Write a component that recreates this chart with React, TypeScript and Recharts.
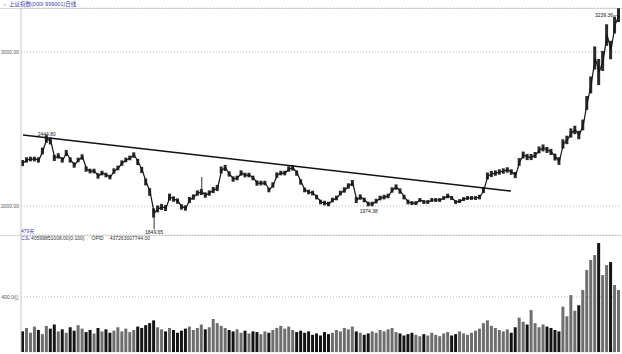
import React from 'react';
import {
  ComposedChart,
  Line,
  Bar,
  Cell,
  XAxis,
  YAxis,
  CartesianGrid,
  ReferenceLine,
  ReferenceDot,
} from 'recharts';

// Daily closing level of the index, sampled roughly every 3 trading days (479 days total)
const closes = [
  2279, 2299, 2305, 2305, 2299, 2357, 2435, 2422, 2312, 2325, 2299,
  2344, 2299, 2266, 2299, 2318, 2240, 2227, 2227, 2195, 2214,
  2201, 2188, 2227, 2247, 2279, 2299, 2312, 2331, 2286, 2234,
  2156, 2091, 1955, 1981, 1994, 1987, 2058, 2045, 2032, 1994,
  1987, 2039, 2058, 2084, 2091, 2071, 2084, 2104, 2117, 2234,
  2247, 2208, 2175, 2182, 2214, 2201, 2201, 2182, 2149, 2149,
  2149, 2104, 2136, 2201, 2214, 2214, 2240, 2247, 2214, 2156,
  2104, 2091, 2084, 2058, 2026, 2019, 2013, 2039, 2052, 2084,
  2104, 2130, 2149, 2039, 2058, 2039, 2013, 2013, 2032, 2052,
  2058, 2065, 2104, 2123, 2097, 2058, 2026, 2019, 2019, 2039,
  2026, 2026, 2039, 2039, 2039, 2052, 2065, 2052, 2026, 2032,
  2045, 2052, 2052, 2052, 2058, 2104, 2195, 2208, 2214, 2221,
  2227, 2234, 2221, 2201, 2286, 2331, 2318, 2318, 2331, 2364,
  2377, 2364, 2351, 2318, 2292, 2403, 2429, 2474, 2494, 2461,
  2526, 2669, 2786, 2961, 2870, 2942, 3110, 3013, 3175, 3239.36,
];

// Typical high-low span (points) around each sampled close
const swings = [
  40, 35, 30, 30, 35, 45, 50, 45, 40, 35, 35,
  40, 35, 35, 30, 35, 35, 30, 30, 35, 30,
  30, 30, 35, 30, 35, 30, 30, 35, 40, 40,
  45, 50, 60, 45, 40, 40, 45, 35, 35, 35,
  35, 40, 35, 35, 40, 35, 35, 40, 40, 45,
  40, 35, 35, 30, 35, 30, 30, 30, 35, 30,
  30, 30, 35, 35, 30, 30, 35, 35, 35, 35,
  30, 30, 30, 30, 30, 30, 30, 30, 30, 30,
  35, 35, 40, 40, 35, 30, 30, 30, 30, 30,
  30, 30, 35, 35, 35, 30, 30, 25, 25, 25,
  25, 25, 25, 25, 25, 25, 30, 25, 25, 25,
  25, 25, 25, 25, 30, 40, 45, 40, 35, 35,
  35, 35, 35, 40, 50, 45, 40, 40, 40, 45,
  45, 40, 40, 45, 50, 60, 55, 60, 55, 55,
  70, 90, 110, 150, 170, 130, 140, 120, 110, 90,
];

// Volume (亿)
const volumes = [
  150, 175, 140, 185, 160, 130, 190, 170, 200, 150, 165,
  140, 180, 155, 195, 170, 145, 160, 135, 175, 150,
  165, 140, 155, 180, 150, 170, 145, 160, 185, 175,
  195, 210, 230, 180, 165, 150, 175, 160, 140, 155,
  170, 185, 160, 175, 200, 165, 180, 240, 210, 190,
  175, 160, 150, 165, 140, 155, 135, 150, 145, 130,
  150, 140, 160, 175, 190, 170, 185, 160, 145, 155,
  140, 150, 125, 135, 120, 145, 130, 140, 160, 150,
  175, 165, 185, 150, 140, 125, 135, 150, 140, 160,
  150, 165, 175, 145, 135, 120, 130, 140, 125, 115,
  130, 120, 140, 125, 115, 135, 145, 120, 130, 150,
  135, 125, 140, 155, 170, 210, 230, 190, 175, 160,
  150, 165, 140, 180, 250, 220, 200, 305, 210, 180,
  200, 185, 175, 160, 150, 330, 260, 414, 300, 340,
  451, 596, 669, 705, 793, 560, 632, 654, 487, 451,
];

const priceTicks = [2000, 3000];
const volumeTicks = [400];

// annotated extremes: [index, value]
const highPoint = [6, 2444.8];
const lowPoint = [33, 1849.65];
const lowClose = [33, 1955];
const secondLow = [87, 1974.38];
const lastPoint = [150, 3239.36];
const spikeBar = [45, 2091, 2188];
// trend line endpoints: [index, value]
const trendStart = [0, 2461];
const trendEnd = [122.8, 2097];

const titleText = '上证指数(000I 999001)日线';
const daysText = '479天';
const cjlValue = '40599851008.00(0:100)';
const opidValue = '437263007744.00';

const data = closes.map((c, i) => ({
  i,
  close: c,
  range: [c - swings[i] / 2, c + swings[i] / 2],
  vol: volumes[i],
}));

const FONT = '"Liberation Sans", "Noto Sans CJK SC", sans-serif';
const X_DOMAIN: [number, number] = [-0.5, 150.5];

export default function App() {
  return (
    <div
      style={{
        position: 'absolute',
        left: 0,
        top: 0,
        width: 622,
        height: 354,
        background: '#fff',
        overflow: 'hidden',
        fontFamily: FONT,
      }}
    >
      {/* title */}
      <div style={{ position: 'absolute', left: 2, top: 0, fontSize: 5.5, lineHeight: '8px', whiteSpace: 'nowrap' }}>
        <span style={{ color: '#888' }}>⇔ </span>
        <span style={{ color: '#3a3aa8' }}>{titleText}</span>
      </div>
      <div style={{ position: 'absolute', left: 0, top: 8, width: 622, height: 1, background: '#d6d6d6' }} />

      <div style={{ position: 'absolute', left: 0, top: 0 }}>
        <ComposedChart width={622} height={235} data={data} margin={{ top: 8, right: 1, bottom: 0, left: 0 }}>
          <CartesianGrid vertical={false} stroke="#bbb" strokeDasharray="1 2" />
          <XAxis dataKey="i" type="number" domain={X_DOMAIN} hide allowDataOverflow />
          <YAxis
            width={21}
            domain={[1811.7, 3285.7]}
            ticks={priceTicks}
            allowDataOverflow
            tickFormatter={(v: number) => v.toFixed(2)}
            tick={{ fontSize: 5, fill: '#555', fontFamily: FONT }}
            tickLine={false}
            tickSize={0}
            tickMargin={2}
            axisLine={{ stroke: '#c8c8c8' }}
          />
          <ReferenceLine
            segment={[
              { x: trendStart[0], y: trendStart[1] },
              { x: trendEnd[0], y: trendEnd[1] },
            ]}
            stroke="#111"
            strokeWidth={1.6}
          />
          <ReferenceLine
            segment={[
              { x: lowClose[0], y: lowClose[1] },
              { x: lowPoint[0], y: lowPoint[1] },
            ]}
            stroke="#333"
            strokeWidth={1}
          />
          <ReferenceLine
            segment={[
              { x: spikeBar[0], y: spikeBar[1] },
              { x: spikeBar[0], y: spikeBar[2] },
            ]}
            stroke="#333"
            strokeWidth={1}
          />
          <Bar dataKey="range" barSize={3} fill="#2a2a2a" isAnimationActive={false} />
          <Line
            dataKey="close"
            type="linear"
            stroke="#151515"
            strokeWidth={1.2}
            dot={false}
            isAnimationActive={false}
          />
          <ReferenceDot
            x={highPoint[0]}
            y={highPoint[1]}
            r={0}
            label={{ value: highPoint[1].toFixed(2), position: 'top', offset: 2, fontSize: 5, fill: '#222', fontFamily: FONT }}
          />
          <ReferenceDot
            x={lowPoint[0]}
            y={lowPoint[1]}
            r={0}
            label={{ value: lowPoint[1].toFixed(2), position: 'bottom', offset: 1, fontSize: 5, fill: '#222', fontFamily: FONT }}
          />
          <ReferenceDot
            x={secondLow[0]}
            y={secondLow[1]}
            r={0}
            label={{ value: secondLow[1].toFixed(2), position: 'bottom', offset: 0, fontSize: 5, fill: '#222', fontFamily: FONT }}
          />
          <ReferenceDot
            x={lastPoint[0]}
            y={lastPoint[1]}
            r={0}
            label={{ value: lastPoint[1].toFixed(2) + '—', position: 'left', offset: 1, fontSize: 5, fill: '#222', fontFamily: FONT }}
          />
        </ComposedChart>
      </div>

      <div style={{ position: 'absolute', left: 0, top: 235, width: 622, height: 1, background: '#d6d6d6' }} />
      <div style={{ position: 'absolute', left: 21, top: 228, fontSize: 5, lineHeight: '6px', color: '#3a3aa8', whiteSpace: 'nowrap' }}>
        {daysText}
      </div>
      <div style={{ position: 'absolute', left: 21, top: 235, fontSize: 5, lineHeight: '7px', whiteSpace: 'nowrap', color: '#333' }}>
        <span style={{ color: '#3a3aa8' }}>CJL</span>
        <span>{'  ' + cjlValue}</span>
        <span style={{ marginLeft: 7 }}>OPID</span>
        <span style={{ marginLeft: 6 }}>{opidValue}</span>
      </div>

      <div style={{ position: 'absolute', left: 0, top: 235 }}>
        <ComposedChart width={622} height={119} data={data} margin={{ top: 0, right: 1, bottom: 2, left: 0 }}>
          <CartesianGrid vertical={false} stroke="#bbb" strokeDasharray="1 2" />
          <XAxis dataKey="i" type="number" domain={X_DOMAIN} hide allowDataOverflow />
          <YAxis
            width={21}
            domain={[0, 851]}
            ticks={volumeTicks}
            allowDataOverflow
            tickFormatter={(v: number) => v.toFixed(1) + '亿'}
            tick={{ fontSize: 5, fill: '#555', fontFamily: FONT }}
            tickLine={false}
            tickSize={0}
            tickMargin={2}
            axisLine={{ stroke: '#c8c8c8' }}
          />
          <Bar dataKey="vol" barSize={3} isAnimationActive={false}>
            {data.map((d, idx) => (
              <Cell
                key={idx}
                fill={idx > 0 && d.close >= data[idx - 1].close ? '#6e6e6e' : '#141414'}
              />
            ))}
          </Bar>
        </ComposedChart>
      </div>
    </div>
  );
}
